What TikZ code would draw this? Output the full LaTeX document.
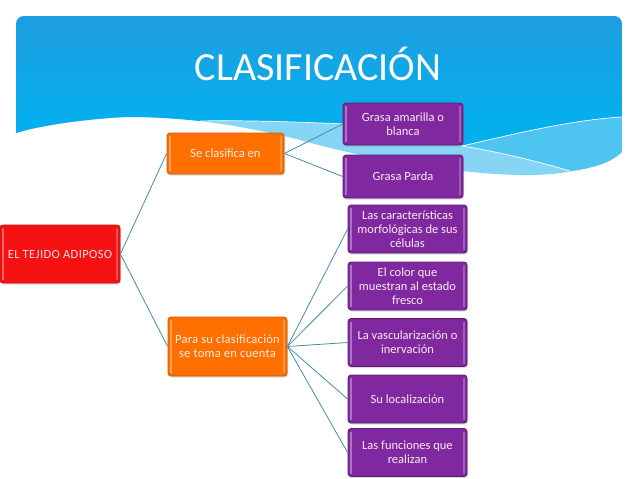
\documentclass[tikz,border=0pt]{standalone}
\usepackage{fontspec}
\setmainfont{Carlito}
\usepackage{xcolor}
\usetikzlibrary{positioning, shadows}

\definecolor{skytop}{RGB}{30,158,224}
\definecolor{skybot}{RGB}{0,178,240}
\definecolor{skymid}{RGB}{78,196,240}
\definecolor{skylow}{RGB}{135,213,245}
\definecolor{rootred}{RGB}{246,18,18}
\definecolor{midorange}{RGB}{255,112,0}
\definecolor{leafpurple}{RGB}{128,40,160}
\definecolor{linkblue}{RGB}{72,140,168}

\begin{document}
\begin{tikzpicture}[x=1pt, y=-1pt,
      font=\fontsize{12.5}{14}\selectfont,
      box/.style={rounded corners=3pt, line width=0.8pt, align=center, inner sep=1pt,
                  drop shadow={opacity=0.3, shadow xshift=1pt, shadow yshift=-1.5pt},
                  path picture={
                    \draw[white, opacity=0.35, line width=1.2pt]
                      ([xshift=3pt,yshift=-3pt]path picture bounding box.north west) --
                      ([xshift=3pt,yshift=3pt]path picture bounding box.south west);
                    \draw[white, opacity=0.25, line width=1.2pt]
                      ([xshift=-3pt,yshift=-3pt]path picture bounding box.north east) --
                      ([xshift=-3pt,yshift=3pt]path picture bounding box.south east);}},
      root/.style={box, fill=rootred, draw=rootred!80!black, text=white!88!red,
                   minimum width=120pt, minimum height=58pt},
      mid/.style={box, fill=midorange, draw=midorange!80!black, text=white!85!orange,
                  minimum width=117pt},
      leaf/.style={box, fill=leafpurple, draw=leafpurple!70!black, text=white!92!purple,
                   minimum width=119pt, minimum height=48pt},
      title/.style={font=\fontsize{40}{44}\selectfont, text=white, anchor=base},
      link/.style={draw=linkblue, line width=0.8pt}]
    \useasboundingbox (0,0) rectangle (638,479);
    % banner with waves
    \begin{scope}
      \clip[rounded corners=8pt] (16,16) rectangle (622,320);
      \fill[skylow] (16,16) -- (622,16) -- (622,152)
        .. controls (605,168) and (560,176) .. (520,175)
        .. controls (460,174) and (370,160) .. (300,140)
        .. controls (230,122) and (160,114) .. (110,118)
        .. controls (70,121) and (35,127) .. (16,133) -- cycle;
      \fill[skymid] (462,146) .. controls (500,152) and (540,162) .. (570,171)
        .. controls (595,168) and (612,162) .. (622,152) -- (622,117)
        .. controls (570,120) and (510,135) .. (462,146) -- cycle;
      \shade[top color=skytop, bottom color=skybot] (16,16) -- (622,16) -- (622,117)
        .. controls (570,120) and (510,135) .. (462,146)
        .. controls (420,135) and (380,124) .. (345,124)
        .. controls (300,122) and (240,120) .. (200,121)
        .. controls (160,117) and (130,116) .. (110,118)
        .. controls (70,121) and (35,127) .. (16,133) -- cycle;
      \draw[white, line width=0.7pt] (200,121) .. controls (240,120) and (300,122) .. (345,124)
        .. controls (380,124) and (420,135) .. (462,146)
        .. controls (510,135) and (570,120) .. (622,117);
      \draw[white, line width=0.7pt] (462,146) .. controls (500,152) and (540,162) .. (570,171);
    \end{scope}
    \node[title] (titulo) at (318,80) {CLASIFICACIÓN};
    % mind map
    \node[root] (tejido) at (60,254) {\addfontfeature{LetterSpace=3}EL TEJIDO ADIPOSO};
    \node[mid, minimum height=41pt] (clasifica) at (225.5,153.5) {Se clasifica en};
    \node[mid, minimum height=59pt, minimum width=119pt] (cuenta) at (227.5,346.5)
      {\addfontfeature{LetterSpace=2}Para su clasificación\\ \addfontfeature{LetterSpace=2}se toma en cuenta};
    \node[leaf, minimum width=120pt, minimum height=42pt] (amarilla) at (403,124) {Grasa amarilla o\\ blanca};
    \node[leaf, minimum width=120pt, minimum height=43pt] (parda) at (403,176.5) {Grasa Parda};
    \node[leaf] (morfo) at (407.5,229) {Las características\\ morfológicas de sus\\ células};
    \node[leaf] (color) at (407.5,286) {El color que\\ muestran al estado\\ fresco};
    \node[leaf] (vascular) at (407.5,342.5) {La vascularización o\\ inervación};
    \node[leaf] (local) at (407.5,399) {Su localización};
    \node[leaf] (funcion) at (407.5,452.5) {Las funciones que\\ realizan};
    \draw[link] (tejido.east) -- (clasifica.west);
    \draw[link] (tejido.east) -- (cuenta.west);
    \foreach \leafname in {amarilla, parda}{
      \draw[link] (clasifica.east) -- (\leafname.west);
    }
    \foreach \leafname in {morfo, color, vascular, local, funcion}{
      \draw[link] (cuenta.east) -- (\leafname.west);
    }
  \end{tikzpicture}
\end{document}
